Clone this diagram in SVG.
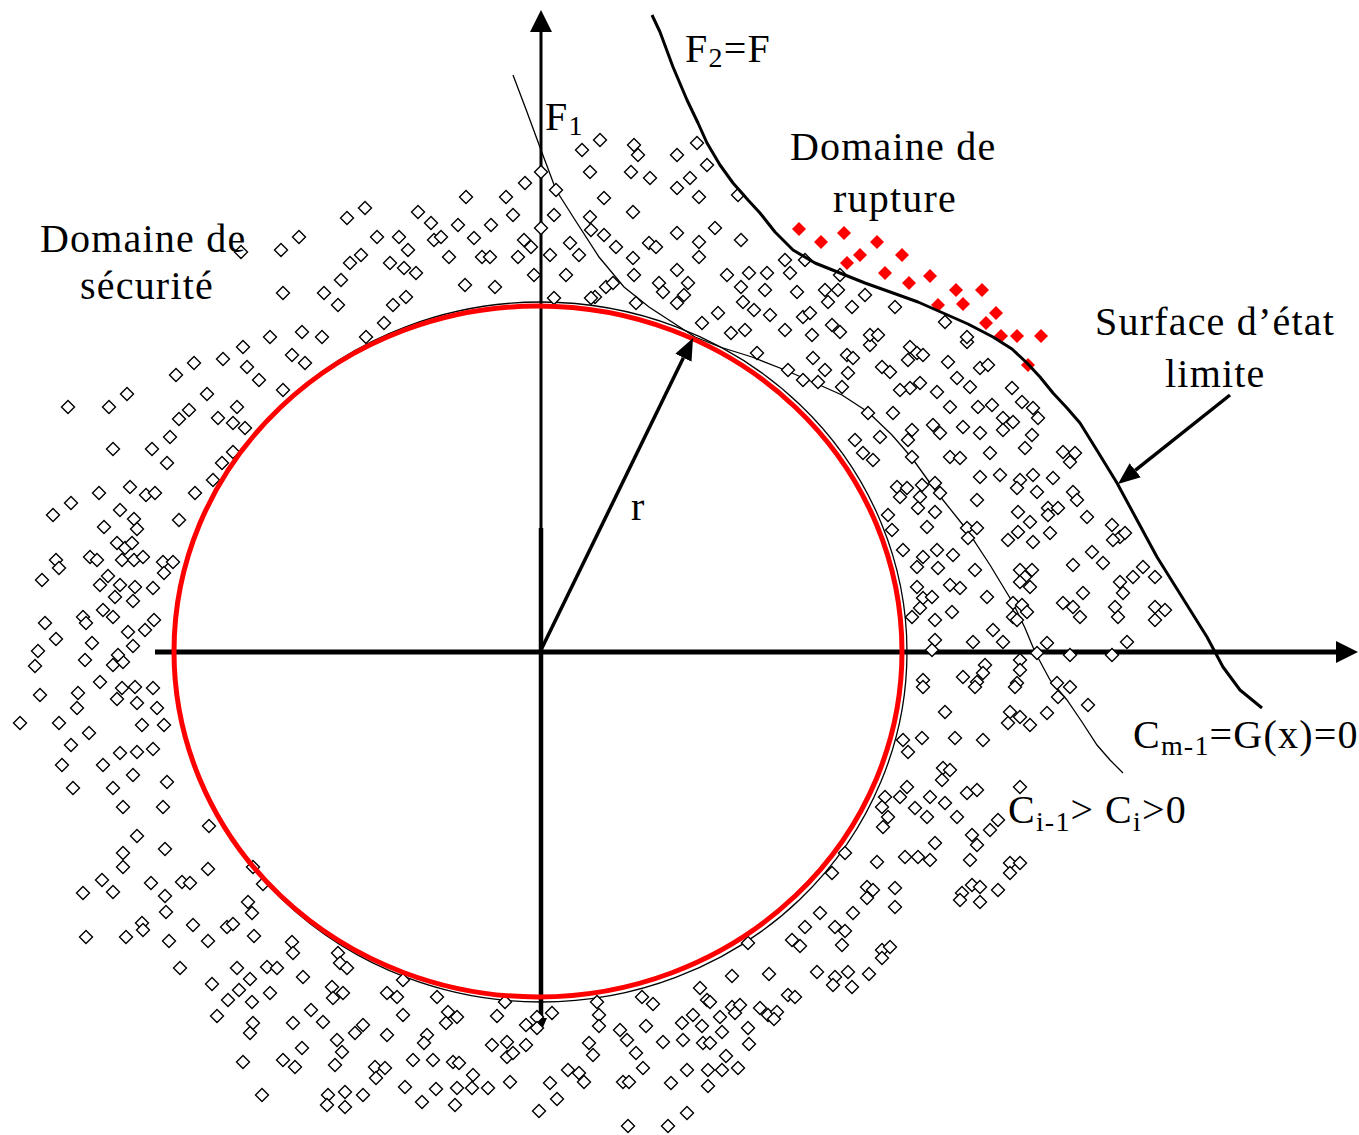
<svg xmlns="http://www.w3.org/2000/svg" xmlns:xlink="http://www.w3.org/1999/xlink" width="1359" height="1135" viewBox="0 0 1359 1135">
<style>
.lbl{font-family:"Liberation Serif","Times New Roman",serif;font-size:40px;fill:#000;letter-spacing:1.2px}
.sub{font-size:28px}
.pt{fill:#fff;stroke:#000;stroke-width:1.4}
.rp{fill:#ff0000;stroke:none}
.axis{stroke:#000;fill:none}
.thin{stroke:#000;stroke-width:1.3;fill:none}
.thick{stroke:#000;stroke-width:3;fill:none;stroke-linejoin:round}
.arr{stroke:#000;stroke-width:3.5;fill:none}
</style>
<defs>
<path id="d" class="pt" d="M-6.5,0L0,-6.5L6.5,0L0,6.5Z"/>
<path id="r" class="rp" d="M-7,0L0,-7L7,0L0,7Z"/>
<marker id="axh" viewBox="0 0 22 22" refX="0" refY="11" markerWidth="22" markerHeight="22" markerUnits="userSpaceOnUse" orient="auto"><path d="M0,0L22,11L0,22Z" fill="#000"/></marker>
<marker id="ah" viewBox="0 0 22 18" refX="0" refY="9" markerWidth="22" markerHeight="18" markerUnits="userSpaceOnUse" orient="auto"><path d="M0,0L22,9L0,18Z" fill="#000"/></marker>
</defs>
<rect width="1359" height="1135" fill="#fff"/>
<g id="axes">
<line class="axis" x1="541" y1="530" x2="541" y2="32" stroke-width="3" marker-end="url(#axh)"/>
<line class="axis" x1="541" y1="528" x2="541" y2="1020" stroke-width="4.5"/>
<path d="M535,1018L547,1018L541,1032Z" fill="#000"/>
<line class="axis" x1="155" y1="652" x2="1336" y2="652" stroke-width="5" marker-end="url(#axh)"/>
</g>
<g id="curves">
<ellipse class="thin" cx="541" cy="652" rx="366" ry="350"/>
<path id="curve-ci" class="thin" d="M513,75L527,112L541,150L556,190L577,223L599,257L624,287L649,307L672,322L695,337L720,347L752,357L785,370L815,383L842,395L868,412L892,435L912,458L935,490L967,530L990,565L1013,603L1025,628L1035,652L1050,680L1067,700L1082,722L1097,745L1110,760L1123,773"/>
</g>
<g id="points">
<use href="#d" x="68" y="407"/><use href="#d" x="109" y="407"/><use href="#d" x="127" y="394"/><use href="#d" x="176" y="375"/><use href="#d" x="194" y="363"/><use href="#d" x="223" y="359"/><use href="#d" x="243" y="347"/><use href="#d" x="270" y="337"/><use href="#d" x="302" y="332"/><use href="#d" x="322" y="337"/><use href="#d" x="292" y="355"/><use href="#d" x="305" y="363"/><use href="#d" x="247" y="367"/><use href="#d" x="259" y="380"/><use href="#d" x="207" y="394"/><use href="#d" x="237" y="407"/><use href="#d" x="189" y="410"/><use href="#d" x="179" y="419"/><use href="#d" x="218" y="418"/><use href="#d" x="233" y="423"/><use href="#d" x="245" y="428"/><use href="#d" x="283" y="390"/><use href="#d" x="170" y="437"/><use href="#d" x="113" y="449"/><use href="#d" x="152" y="449"/><use href="#d" x="167" y="463"/><use href="#d" x="222" y="463"/><use href="#d" x="233" y="452"/><use href="#d" x="213" y="480"/><use href="#d" x="195" y="493"/><use href="#d" x="130" y="487"/><use href="#d" x="146" y="495"/><use href="#d" x="155" y="493"/><use href="#d" x="99" y="493"/><use href="#d" x="71" y="503"/><use href="#d" x="53" y="515"/><use href="#d" x="120" y="510"/><use href="#d" x="134" y="519"/><use href="#d" x="137" y="529"/><use href="#d" x="104" y="527"/><use href="#d" x="179" y="520"/><use href="#d" x="117" y="543"/><use href="#d" x="125" y="548"/><use href="#d" x="132" y="543"/><use href="#d" x="122" y="560"/><use href="#d" x="134" y="560"/><use href="#d" x="143" y="557"/><use href="#d" x="90" y="557"/><use href="#d" x="97" y="560"/><use href="#d" x="56" y="560"/><use href="#d" x="59" y="568"/><use href="#d" x="42" y="580"/><use href="#d" x="163" y="562"/><use href="#d" x="173" y="562"/><use href="#d" x="164" y="573"/><use href="#d" x="108" y="576"/><use href="#d" x="100" y="585"/><use href="#d" x="120" y="585"/><use href="#d" x="135" y="587"/><use href="#d" x="153" y="588"/><use href="#d" x="115" y="597"/><use href="#d" x="133" y="601"/><use href="#d" x="103" y="610"/><use href="#d" x="113" y="617"/><use href="#d" x="83" y="617"/><use href="#d" x="86" y="623"/><use href="#d" x="45" y="623"/><use href="#d" x="56" y="639"/><use href="#d" x="92" y="643"/><use href="#d" x="128" y="632"/><use href="#d" x="145" y="630"/><use href="#d" x="154" y="620"/><use href="#d" x="133" y="646"/><use href="#d" x="38" y="651"/><use href="#d" x="35" y="666"/><use href="#d" x="85" y="660"/><use href="#d" x="113" y="665"/><use href="#d" x="123" y="662"/><use href="#d" x="118" y="655"/><use href="#d" x="100" y="682"/><use href="#d" x="122" y="688"/><use href="#d" x="135" y="687"/><use href="#d" x="153" y="688"/><use href="#d" x="117" y="699"/><use href="#d" x="137" y="703"/><use href="#d" x="157" y="708"/><use href="#d" x="40" y="695"/><use href="#d" x="78" y="693"/><use href="#d" x="77" y="708"/>
<use href="#d" x="20" y="723"/><use href="#d" x="59" y="723"/><use href="#d" x="89" y="733"/><use href="#d" x="142" y="725"/><use href="#d" x="164" y="725"/><use href="#d" x="71" y="745"/><use href="#d" x="120" y="753"/><use href="#d" x="137" y="752"/><use href="#d" x="153" y="749"/><use href="#d" x="62" y="765"/><use href="#d" x="103" y="765"/><use href="#d" x="133" y="775"/><use href="#d" x="73" y="788"/><use href="#d" x="113" y="788"/><use href="#d" x="167" y="782"/><use href="#d" x="123" y="807"/><use href="#d" x="163" y="807"/><use href="#d" x="209" y="826"/><use href="#d" x="137" y="836"/><use href="#d" x="123" y="853"/><use href="#d" x="123" y="867"/><use href="#d" x="165" y="849"/><use href="#d" x="208" y="869"/><use href="#d" x="253" y="867"/><use href="#d" x="263" y="884"/><use href="#d" x="102" y="880"/><use href="#d" x="113" y="892"/><use href="#d" x="83" y="893"/><use href="#d" x="151" y="883"/><use href="#d" x="182" y="882"/><use href="#d" x="190" y="883"/><use href="#d" x="165" y="896"/><use href="#d" x="166" y="912"/><use href="#d" x="248" y="902"/><use href="#d" x="252" y="913"/><use href="#d" x="142" y="923"/><use href="#d" x="143" y="930"/><use href="#d" x="126" y="937"/><use href="#d" x="86" y="937"/><use href="#d" x="193" y="925"/><use href="#d" x="227" y="927"/><use href="#d" x="233" y="924"/><use href="#d" x="169" y="941"/><use href="#d" x="208" y="941"/><use href="#d" x="254" y="936"/><use href="#d" x="292" y="942"/><use href="#d" x="293" y="953"/><use href="#d" x="338" y="953"/><use href="#d" x="340" y="963"/><use href="#d" x="347" y="968"/><use href="#d" x="180" y="968"/><use href="#d" x="237" y="968"/><use href="#d" x="250" y="979"/><use href="#d" x="267" y="967"/><use href="#d" x="277" y="968"/><use href="#d" x="303" y="977"/><use href="#d" x="212" y="984"/><use href="#d" x="228" y="1000"/><use href="#d" x="239" y="990"/><use href="#d" x="252" y="1002"/><use href="#d" x="270" y="993"/><use href="#d" x="332" y="987"/><use href="#d" x="343" y="993"/><use href="#d" x="333" y="998"/><use href="#d" x="387" y="993"/><use href="#d" x="397" y="997"/><use href="#d" x="403" y="980"/><use href="#d" x="217" y="1016"/><use href="#d" x="253" y="1023"/><use href="#d" x="250" y="1033"/><use href="#d" x="293" y="1023"/><use href="#d" x="311" y="1010"/><use href="#d" x="323" y="1022"/><use href="#d" x="337" y="1040"/><use href="#d" x="342" y="1052"/><use href="#d" x="335" y="1065"/><use href="#d" x="355" y="1033"/><use href="#d" x="363" y="1025"/><use href="#d" x="387" y="1035"/><use href="#d" x="403" y="1015"/><use href="#d" x="243" y="1062"/><use href="#d" x="283" y="1060"/><use href="#d" x="295" y="1067"/><use href="#d" x="302" y="1048"/><use href="#d" x="375" y="1067"/><use href="#d" x="385" y="1068"/><use href="#d" x="376" y="1078"/><use href="#d" x="413" y="1060"/><use href="#d" x="262" y="1095"/><use href="#d" x="328" y="1095"/><use href="#d" x="327" y="1105"/><use href="#d" x="345" y="1092"/><use href="#d" x="345" y="1107"/><use href="#d" x="363" y="1095"/><use href="#d" x="405" y="1087"/>
<use href="#d" x="437" y="997"/><use href="#d" x="448" y="1012"/><use href="#d" x="457" y="1017"/><use href="#d" x="446" y="1023"/><use href="#d" x="427" y="1035"/><use href="#d" x="424" y="1043"/><use href="#d" x="433" y="1060"/><use href="#d" x="453" y="1062"/><use href="#d" x="459" y="1063"/><use href="#d" x="436" y="1089"/><use href="#d" x="457" y="1088"/><use href="#d" x="473" y="1075"/><use href="#d" x="472" y="1088"/><use href="#d" x="488" y="1088"/><use href="#d" x="455" y="1105"/><use href="#d" x="422" y="1102"/><use href="#d" x="497" y="1016"/><use href="#d" x="505" y="1002"/><use href="#d" x="492" y="1045"/><use href="#d" x="507" y="1042"/><use href="#d" x="507" y="1057"/><use href="#d" x="513" y="1053"/><use href="#d" x="526" y="1045"/><use href="#d" x="526" y="1025"/><use href="#d" x="537" y="1017"/><use href="#d" x="537" y="1028"/><use href="#d" x="552" y="1013"/><use href="#d" x="510" y="1082"/><use href="#d" x="550" y="1083"/><use href="#d" x="557" y="1099"/><use href="#d" x="539" y="1111"/><use href="#d" x="568" y="1070"/><use href="#d" x="579" y="1073"/><use href="#d" x="584" y="1082"/><use href="#d" x="597" y="1002"/><use href="#d" x="599" y="1015"/><use href="#d" x="599" y="1026"/><use href="#d" x="589" y="1043"/><use href="#d" x="593" y="1055"/><use href="#d" x="620" y="1030"/><use href="#d" x="627" y="1040"/><use href="#d" x="636" y="1053"/><use href="#d" x="643" y="1068"/><use href="#d" x="623" y="1082"/><use href="#d" x="629" y="1082"/><use href="#d" x="628" y="1126"/><use href="#d" x="646" y="1026"/><use href="#d" x="642" y="997"/><use href="#d" x="653" y="1004"/><use href="#d" x="663" y="1042"/><use href="#d" x="671" y="1083"/><use href="#d" x="668" y="1126"/><use href="#d" x="687" y="1113"/><use href="#d" x="687" y="1070"/><use href="#d" x="682" y="1023"/><use href="#d" x="683" y="1040"/><use href="#d" x="693" y="1015"/><use href="#d" x="702" y="1026"/><use href="#d" x="700" y="988"/><use href="#d" x="707" y="1000"/><use href="#d" x="710" y="1002"/><use href="#d" x="703" y="1043"/><use href="#d" x="710" y="1043"/><use href="#d" x="720" y="1017"/><use href="#d" x="722" y="1032"/><use href="#d" x="732" y="1007"/><use href="#d" x="740" y="1005"/><use href="#d" x="735" y="1013"/><use href="#d" x="726" y="1056"/><use href="#d" x="708" y="1070"/><use href="#d" x="722" y="1070"/><use href="#d" x="738" y="1068"/><use href="#d" x="708" y="1086"/><use href="#d" x="732" y="976"/><use href="#d" x="748" y="1028"/><use href="#d" x="749" y="1044"/><use href="#d" x="748" y="943"/><use href="#d" x="760" y="1008"/><use href="#d" x="768" y="1015"/><use href="#d" x="777" y="1012"/><use href="#d" x="774" y="1019"/><use href="#d" x="788" y="995"/><use href="#d" x="795" y="997"/><use href="#d" x="769" y="974"/><use href="#d" x="792" y="940"/><use href="#d" x="800" y="946"/><use href="#d" x="805" y="927"/><use href="#d" x="817" y="972"/><use href="#d" x="820" y="913"/><use href="#d" x="832" y="873"/><use href="#d" x="835" y="927"/><use href="#d" x="845" y="931"/><use href="#d" x="842" y="945"/><use href="#d" x="835" y="977"/><use href="#d" x="833" y="985"/><use href="#d" x="848" y="972"/><use href="#d" x="852" y="987"/><use href="#d" x="853" y="913"/><use href="#d" x="869" y="974"/><use href="#d" x="867" y="887"/><use href="#d" x="873" y="890"/><use href="#d" x="867" y="898"/><use href="#d" x="877" y="862"/><use href="#d" x="882" y="950"/><use href="#d" x="890" y="947"/><use href="#d" x="882" y="958"/><use href="#d" x="895" y="888"/><use href="#d" x="895" y="907"/>
<use href="#d" x="945" y="712"/><use href="#d" x="1010" y="712"/><use href="#d" x="1020" y="717"/><use href="#d" x="1008" y="723"/><use href="#d" x="1030" y="725"/><use href="#d" x="1047" y="713"/><use href="#d" x="1088" y="705"/><use href="#d" x="903" y="740"/><use href="#d" x="908" y="752"/><use href="#d" x="922" y="738"/><use href="#d" x="955" y="738"/><use href="#d" x="983" y="740"/><use href="#d" x="943" y="768"/><use href="#d" x="950" y="770"/><use href="#d" x="942" y="780"/><use href="#d" x="1020" y="787"/><use href="#d" x="907" y="787"/><use href="#d" x="900" y="797"/><use href="#d" x="885" y="797"/><use href="#d" x="882" y="807"/><use href="#d" x="888" y="817"/><use href="#d" x="883" y="827"/><use href="#d" x="915" y="808"/><use href="#d" x="927" y="817"/><use href="#d" x="930" y="797"/><use href="#d" x="945" y="803"/><use href="#d" x="957" y="817"/><use href="#d" x="967" y="793"/><use href="#d" x="977" y="790"/><use href="#d" x="972" y="835"/><use href="#d" x="977" y="845"/><use href="#d" x="990" y="830"/><use href="#d" x="998" y="820"/><use href="#d" x="935" y="843"/><use href="#d" x="905" y="857"/><use href="#d" x="918" y="857"/><use href="#d" x="930" y="860"/><use href="#d" x="970" y="860"/><use href="#d" x="1010" y="863"/><use href="#d" x="1020" y="863"/><use href="#d" x="1010" y="873"/><use href="#d" x="845" y="853"/><use href="#d" x="962" y="893"/><use href="#d" x="972" y="885"/><use href="#d" x="980" y="887"/><use href="#d" x="980" y="902"/><use href="#d" x="960" y="900"/><use href="#d" x="998" y="890"/>
<use href="#d" x="870" y="345"/><use href="#d" x="847" y="355"/><use href="#d" x="853" y="358"/><use href="#d" x="848" y="373"/><use href="#d" x="842" y="387"/><use href="#d" x="882" y="367"/><use href="#d" x="890" y="372"/><use href="#d" x="910" y="347"/><use href="#d" x="917" y="353"/><use href="#d" x="908" y="360"/><use href="#d" x="923" y="355"/><use href="#d" x="948" y="362"/><use href="#d" x="967" y="342"/><use href="#d" x="980" y="368"/><use href="#d" x="988" y="365"/><use href="#d" x="957" y="378"/><use href="#d" x="970" y="387"/><use href="#d" x="920" y="383"/><use href="#d" x="910" y="388"/><use href="#d" x="900" y="390"/><use href="#d" x="937" y="392"/><use href="#d" x="1012" y="388"/><use href="#d" x="868" y="413"/><use href="#d" x="893" y="413"/><use href="#d" x="950" y="407"/><use href="#d" x="978" y="407"/><use href="#d" x="992" y="405"/><use href="#d" x="1022" y="402"/><use href="#d" x="1033" y="408"/><use href="#d" x="1003" y="418"/><use href="#d" x="1013" y="422"/><use href="#d" x="1038" y="418"/><use href="#d" x="933" y="425"/><use href="#d" x="940" y="433"/><use href="#d" x="963" y="427"/><use href="#d" x="980" y="433"/><use href="#d" x="1003" y="430"/><use href="#d" x="1032" y="435"/><use href="#d" x="912" y="430"/><use href="#d" x="908" y="440"/><use href="#d" x="880" y="437"/><use href="#d" x="855" y="440"/><use href="#d" x="863" y="453"/><use href="#d" x="873" y="460"/><use href="#d" x="912" y="457"/><use href="#d" x="950" y="457"/><use href="#d" x="960" y="458"/><use href="#d" x="990" y="453"/><use href="#d" x="1025" y="448"/><use href="#d" x="1063" y="452"/><use href="#d" x="1075" y="453"/><use href="#d" x="1070" y="462"/><use href="#d" x="1000" y="475"/><use href="#d" x="980" y="477"/><use href="#d" x="1020" y="480"/><use href="#d" x="1033" y="475"/><use href="#d" x="1053" y="478"/><use href="#d" x="1017" y="488"/><use href="#d" x="1037" y="492"/><use href="#d" x="1073" y="492"/><use href="#d" x="1077" y="500"/><use href="#d" x="897" y="487"/><use href="#d" x="907" y="488"/><use href="#d" x="922" y="485"/><use href="#d" x="935" y="483"/><use href="#d" x="900" y="497"/><use href="#d" x="920" y="497"/><use href="#d" x="940" y="493"/><use href="#d" x="918" y="508"/><use href="#d" x="935" y="512"/><use href="#d" x="977" y="500"/><use href="#d" x="1018" y="512"/><use href="#d" x="1048" y="508"/><use href="#d" x="1058" y="508"/><use href="#d" x="1048" y="515"/><use href="#d" x="1087" y="517"/><use href="#d" x="888" y="515"/><use href="#d" x="892" y="530"/><use href="#d" x="927" y="527"/><use href="#d" x="967" y="528"/><use href="#d" x="977" y="528"/><use href="#d" x="968" y="538"/><use href="#d" x="1008" y="540"/><use href="#d" x="1018" y="532"/><use href="#d" x="1030" y="522"/><use href="#d" x="1033" y="542"/><use href="#d" x="1050" y="533"/><use href="#d" x="1112" y="525"/><use href="#d" x="1120" y="537"/><use href="#d" x="1125" y="533"/><use href="#d" x="1113" y="540"/><use href="#d" x="903" y="550"/><use href="#d" x="923" y="557"/><use href="#d" x="937" y="550"/><use href="#d" x="917" y="567"/><use href="#d" x="938" y="568"/><use href="#d" x="953" y="555"/><use href="#d" x="975" y="570"/><use href="#d" x="1020" y="570"/><use href="#d" x="1032" y="570"/><use href="#d" x="1025" y="577"/><use href="#d" x="1020" y="582"/><use href="#d" x="1030" y="587"/><use href="#d" x="1073" y="565"/><use href="#d" x="1092" y="552"/><use href="#d" x="1103" y="563"/><use href="#d" x="1143" y="567"/><use href="#d" x="1133" y="577"/><use href="#d" x="1155" y="577"/><use href="#d" x="1120" y="582"/><use href="#d" x="1123" y="593"/><use href="#d" x="917" y="587"/><use href="#d" x="950" y="585"/><use href="#d" x="960" y="588"/><use href="#d" x="987" y="597"/><use href="#d" x="923" y="598"/><use href="#d" x="932" y="597"/><use href="#d" x="920" y="608"/><use href="#d" x="912" y="617"/><use href="#d" x="935" y="620"/><use href="#d" x="952" y="612"/><use href="#d" x="1013" y="603"/><use href="#d" x="1022" y="605"/><use href="#d" x="1013" y="617"/><use href="#d" x="1027" y="612"/><use href="#d" x="1017" y="620"/><use href="#d" x="1063" y="603"/><use href="#d" x="1073" y="607"/><use href="#d" x="1083" y="593"/><use href="#d" x="1080" y="617"/><use href="#d" x="1115" y="607"/><use href="#d" x="1118" y="617"/><use href="#d" x="1155" y="607"/><use href="#d" x="1165" y="610"/><use href="#d" x="1155" y="620"/><use href="#d" x="993" y="630"/><use href="#d" x="1003" y="642"/><use href="#d" x="973" y="642"/><use href="#d" x="935" y="640"/><use href="#d" x="932" y="650"/><use href="#d" x="1037" y="653"/><use href="#d" x="1047" y="643"/><use href="#d" x="1070" y="655"/><use href="#d" x="1112" y="655"/><use href="#d" x="1127" y="642"/><use href="#d" x="1020" y="660"/><use href="#d" x="1020" y="670"/><use href="#d" x="985" y="665"/><use href="#d" x="983" y="673"/><use href="#d" x="923" y="680"/><use href="#d" x="923" y="687"/><use href="#d" x="963" y="677"/><use href="#d" x="977" y="682"/><use href="#d" x="975" y="687"/><use href="#d" x="1017" y="683"/><use href="#d" x="1015" y="687"/><use href="#d" x="1057" y="683"/><use href="#d" x="1070" y="687"/><use href="#d" x="1058" y="697"/>
<use href="#d" x="785" y="260"/><use href="#d" x="805" y="260"/><use href="#d" x="767" y="273"/><use href="#d" x="790" y="273"/><use href="#d" x="765" y="290"/><use href="#d" x="797" y="292"/><use href="#d" x="825" y="290"/><use href="#d" x="838" y="290"/><use href="#d" x="828" y="302"/><use href="#d" x="852" y="307"/><use href="#d" x="865" y="295"/><use href="#d" x="895" y="307"/><use href="#d" x="770" y="315"/><use href="#d" x="803" y="317"/><use href="#d" x="810" y="313"/><use href="#d" x="785" y="330"/><use href="#d" x="812" y="335"/><use href="#d" x="832" y="325"/><use href="#d" x="840" y="332"/><use href="#d" x="870" y="335"/><use href="#d" x="878" y="335"/><use href="#d" x="945" y="322"/><use href="#d" x="967" y="337"/><use href="#d" x="813" y="358"/><use href="#d" x="825" y="370"/><use href="#d" x="803" y="380"/><use href="#d" x="818" y="382"/><use href="#d" x="788" y="370"/><use href="#d" x="840" y="275"/>
<use href="#d" x="582" y="150"/><use href="#d" x="600" y="140"/><use href="#d" x="634" y="145"/><use href="#d" x="638" y="155"/><use href="#d" x="677" y="155"/><use href="#d" x="697" y="143"/><use href="#d" x="590" y="172"/><use href="#d" x="631" y="172"/><use href="#d" x="650" y="178"/><use href="#d" x="677" y="188"/><use href="#d" x="690" y="178"/><use href="#d" x="699" y="197"/><use href="#d" x="707" y="165"/><use href="#d" x="604" y="198"/><use href="#d" x="633" y="212"/><use href="#d" x="556" y="190"/><use href="#d" x="541" y="172"/><use href="#d" x="525" y="183"/><use href="#d" x="506" y="197"/><use href="#d" x="466" y="197"/><use href="#d" x="513" y="215"/><use href="#d" x="554" y="215"/><use href="#d" x="541" y="228"/><use href="#d" x="590" y="217"/><use href="#d" x="591" y="230"/><use href="#d" x="604" y="235"/><use href="#d" x="570" y="243"/><use href="#d" x="579" y="255"/><use href="#d" x="616" y="247"/><use href="#d" x="649" y="243"/><use href="#d" x="656" y="247"/><use href="#d" x="677" y="233"/><use href="#d" x="715" y="228"/><use href="#d" x="741" y="240"/><use href="#d" x="699" y="242"/><use href="#d" x="699" y="257"/><use href="#d" x="633" y="258"/><use href="#d" x="634" y="275"/><use href="#d" x="677" y="270"/><use href="#d" x="688" y="283"/><use href="#d" x="684" y="295"/><use href="#d" x="677" y="303"/><use href="#d" x="659" y="283"/><use href="#d" x="663" y="292"/><use href="#d" x="606" y="287"/><use href="#d" x="613" y="283"/><use href="#d" x="595" y="297"/><use href="#d" x="636" y="303"/><use href="#d" x="550" y="255"/><use href="#d" x="566" y="275"/><use href="#d" x="534" y="275"/><use href="#d" x="524" y="240"/><use href="#d" x="531" y="247"/><use href="#d" x="518" y="257"/><use href="#d" x="491" y="225"/><use href="#d" x="482" y="257"/><use href="#d" x="490" y="257"/><use href="#d" x="449" y="257"/><use href="#d" x="458" y="225"/><use href="#d" x="474" y="238"/><use href="#d" x="431" y="223"/><use href="#d" x="434" y="240"/><use href="#d" x="441" y="237"/><use href="#d" x="418" y="212"/><use href="#d" x="399" y="237"/><use href="#d" x="408" y="250"/><use href="#d" x="377" y="237"/><use href="#d" x="390" y="263"/><use href="#d" x="404" y="268"/><use href="#d" x="416" y="273"/><use href="#d" x="361" y="255"/><use href="#d" x="350" y="263"/><use href="#d" x="341" y="280"/><use href="#d" x="324" y="293"/><use href="#d" x="283" y="293"/><use href="#d" x="281" y="250"/><use href="#d" x="299" y="237"/><use href="#d" x="347" y="218"/><use href="#d" x="365" y="208"/><use href="#d" x="241" y="252"/><use href="#d" x="338" y="305"/><use href="#d" x="393" y="305"/><use href="#d" x="406" y="297"/><use href="#d" x="465" y="285"/><use href="#d" x="495" y="287"/><use href="#d" x="554" y="298"/><use href="#d" x="591" y="298"/><use href="#d" x="366" y="337"/><use href="#d" x="384" y="323"/><use href="#d" x="702" y="323"/><use href="#d" x="718" y="313"/><use href="#d" x="731" y="333"/><use href="#d" x="745" y="330"/><use href="#d" x="727" y="275"/><use href="#d" x="749" y="273"/><use href="#d" x="741" y="287"/><use href="#d" x="743" y="302"/><use href="#d" x="754" y="310"/><use href="#d" x="757" y="353"/><use href="#d" x="738" y="195"/>
</g>
<g id="failure-points">
<use href="#r" x="799" y="229"/><use href="#r" x="821" y="242"/><use href="#r" x="844" y="233"/><use href="#r" x="877" y="242"/><use href="#r" x="860" y="255"/><use href="#r" x="847" y="263"/><use href="#r" x="902" y="255"/><use href="#r" x="885" y="273"/><use href="#r" x="909" y="283"/><use href="#r" x="930" y="276"/><use href="#r" x="956" y="290"/><use href="#r" x="982" y="290"/><use href="#r" x="938" y="305"/><use href="#r" x="963" y="304"/><use href="#r" x="996" y="313"/><use href="#r" x="986" y="323"/><use href="#r" x="1001" y="336"/><use href="#r" x="1017" y="336"/><use href="#r" x="1041" y="336"/><use href="#r" x="1028" y="365"/>
</g>
<g id="safety-circle">
<ellipse cx="538" cy="651.5" rx="364" ry="345.5" fill="none" stroke="#ff0000" stroke-width="5"/>
</g>
<g id="limit-state-surface">
<path class="thick" d="M652,15L660,32L673,67L687,100L698,123L707,143L720,165L733,183L748,200L760,213L775,232L793,250L815,263L840,273L865,283L893,293L918,302L943,313L968,324L993,337L1012,349L1027,363L1040,377L1053,393L1067,408L1080,423L1098,452L1117,483L1137,520L1157,557L1182,597L1207,637L1223,667L1240,690L1262,708"/>
</g>
<g id="connectors">
<line id="radius-arrow" class="arr" x1="540" y1="652" x2="683.4" y2="357.8" marker-end="url(#ah)"/>
<line id="limit-arrow" class="arr" x1="1230" y1="395" x2="1135.2" y2="470.3" marker-end="url(#ah)"/>
</g>
<g id="labels">
<text class="lbl" x="40" y="252">Domaine de</text>
<text class="lbl" x="80" y="299">sécurité</text>
<text class="lbl" x="790" y="160">Domaine de</text>
<text class="lbl" x="833" y="212">rupture</text>
<text class="lbl" x="1095" y="335">Surface d’état</text>
<text class="lbl" x="1165" y="387">limite</text>
<text class="lbl" x="545" y="130">F<tspan class="sub" dy="5">1</tspan></text>
<text class="lbl" x="685" y="62">F<tspan class="sub" dy="5">2</tspan><tspan dy="-5">=F</tspan></text>
<text class="lbl" x="631" y="520">r</text>
<text class="lbl" x="1133" y="748">C<tspan class="sub" dy="7">m-1</tspan><tspan dy="-7">=G(x)=0</tspan></text>
<text class="lbl" x="1008" y="823">C<tspan class="sub" dy="8">i-1</tspan><tspan dy="-8">&gt;</tspan><tspan x="1105">C</tspan><tspan class="sub" dy="8">i</tspan><tspan dy="-8">&gt;0</tspan></text>
</g>
</svg>
